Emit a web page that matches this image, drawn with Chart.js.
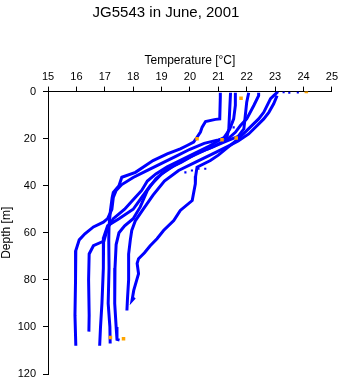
<!DOCTYPE html>
<html>
<head>
<meta charset="utf-8">
<script src="https://cdn.jsdelivr.net/npm/chart.js@4"></script>
<style>
  body { margin: 0; background: #fff; }
</style>
</head>
<body>
<canvas id="profileChart" width="341" height="384"></canvas>
<script>
// temperature [°C], depth [m] for each cast
const cast1 = [[21.07,0.5],[21.07,2.4],[21.05,11.6],[20.9,11.8],[20.55,12.7],[20.43,15.1],[20.37,17.2],[20.25,19.4],[20.13,21.5],[19.9,22.9],[19.66,24.3],[19.2,26.5],[18.7,29.3],[18.08,34.3],[17.6,36.4],[17.5,40],[17.3,42.8],[17.26,45],[17.2,50.5],[17.15,57],[17.14,63],[17.15,75],[17.12,90],[17.18,100],[17.19,107]];
const cast2 = [[21.43,0.5],[21.4,8],[21.37,15.8],[21.3,19.5],[21.0,20.5],[20.5,22],[20.0,24.5],[19.5,27.5],[19.0,30.5],[18.5,33.5],[18.0,36.5],[17.6,39.5],[17.4,42],[17.3,45],[17.25,50],[17.1,54],[16.95,55.5],[16.6,57.5],[16.3,60.4],[16.1,63],[15.98,67.5],[15.97,80],[15.95,95],[15.98,108]];
const cast3 = [[21.6,0.5],[21.6,5.9],[21.54,11.6],[21.4,16],[21.2,19.5],[20.7,23],[20.2,26],[19.7,29],[19.2,32],[18.8,35],[18.5,38],[18.3,42],[18.0,46],[17.7,50],[17.3,54],[17.1,58],[16.97,63.5],[16.6,65.5],[16.45,69],[16.43,80],[16.45,95],[16.44,102]];
const cast4 = [[22.07,0.5],[22.0,4.5],[21.95,10.2],[21.9,15.8],[21.7,19],[21.2,21.5],[20.6,24.5],[20.0,27.9],[19.5,31],[19.0,35],[18.6,40],[18.3,45],[18.0,50],[17.5,54],[17.1,57],[16.96,62],[16.95,75],[16.9,90],[16.85,100],[16.82,108]];
const cast5 = [[22.42,0.5],[22.42,1.7],[22.25,5.9],[22.0,11.6],[21.78,14.4],[21.6,17.3],[21.3,20.5],[20.8,23.5],[20.2,26.5],[19.7,30],[19.2,33],[18.8,37],[18.5,42],[18.25,49],[18.0,54],[17.7,57],[17.5,60],[17.4,65],[17.36,75],[17.35,90],[17.4,100],[17.43,105.3],[17.52,105.6]];
const cast6 = [[23.07,1.7],[22.95,5.2],[22.78,8.8],[22.6,11.6],[22.37,14.4],[22.07,18],[21.7,21],[21.3,23.5],[20.8,26.5],[20.2,30],[19.6,33.5],[19.1,38],[18.7,44],[18.35,50],[18.08,54.8],[17.95,59],[17.9,63],[17.84,69],[17.84,80],[17.8,88],[17.78,93]];
const cast7 = [[23.1,0],[22.84,3],[22.6,8.8],[22.42,11.6],[22.0,16.6],[21.66,20.5],[21.3,24],[21.0,27],[20.72,29.3],[20.25,32.1],[20.2,36],[20.19,39.2],[20.08,46.3],[19.66,50.5],[19.43,54.8],[19.07,59],[18.84,62.5],[18.6,65.5],[18.4,68.5],[18.19,71],[18.14,73],[18.19,77.4],[18.02,84.5],[17.96,88.7],[18.05,87.5]];
// loose samples that sit off the traces
const looseTemp = [23.3, 23.5, 23.8, 21.54, 19.84, 20.07, 20.3, 20.54];
const looseDepth = [0.3, 0.5, 0.4, 15.2, 34.3, 33.5, 32.8, 32.8];
// flagged samples
const flagTemp = [24.1, 21.8, 20.25, 21.13, 21.63, 17.2, 17.66];
const flagDepth = [0, 2.8, 20, 20.5, 19.7, 104.5, 105];

const casts = [cast1, cast2, cast3, cast4, cast5, cast6, cast7];
const toPoints = arr => arr.map(p => ({ x: p[0], y: p[1] }));
const zipPoints = (xs, ys) => xs.map((x, i) => ({ x: x, y: ys[i] }));

const BLUE = '#0000ff';
const FONT = "'Liberation Sans', Arial, sans-serif";

const datasets = [{
  data: zipPoints(flagTemp, flagDepth),
  showLine: false,
  pointStyle: 'rect',
  pointRadius: 2.5,
  backgroundColor: '#ffa500',
  borderWidth: 0,
  order: 0
}, {
  data: zipPoints(looseTemp, looseDepth),
  showLine: false,
  pointStyle: 'rect',
  pointRadius: 1.5,
  backgroundColor: BLUE,
  borderWidth: 0,
  order: 1
}];
casts.forEach(c => {
  datasets.push({
    data: toPoints(c),
    showLine: true,
    borderColor: BLUE,
    borderWidth: 3,
    pointRadius: 0,
    tension: 0,
    order: 2
  });
});

const ctx = document.getElementById('profileChart').getContext('2d');
const chart = new Chart(ctx, {
  type: 'scatter',
  data: { datasets: datasets },
  options: {
    responsive: false,
    animation: false,
    layout: { padding: { left: 0, right: 9, top: 0, bottom: 10 } },
    plugins: {
      legend: { display: false },
      tooltip: { enabled: false },
      title: {
        display: true,
        text: 'JG5543 in June, 2001',
        color: '#000',
        font: { family: FONT, size: 15, weight: 'normal' },
        padding: { top: 4, bottom: 31 }
      }
    },
    scales: {
      x: {
        type: 'linear',
        position: 'top',
        min: 15,
        max: 25,
        ticks: { stepSize: 1, color: '#000', padding: 3, font: { family: FONT, size: 11 } },
        grid: { drawOnChartArea: false, drawTicks: true, tickLength: 5, color: '#000' },
        border: { display: true, color: '#000', width: 1 },
        title: {
          display: true,
          text: 'Temperature [°C]',
          color: '#000',
          font: { family: FONT, size: 12 },
          padding: { top: 0, bottom: 0 }
        }
      },
      y: {
        type: 'linear',
        reverse: true,
        min: 0,
        max: 120,
        ticks: { stepSize: 20, color: '#000', padding: 7, font: { family: FONT, size: 11 } },
        grid: { drawOnChartArea: false, drawTicks: true, tickLength: 5, color: '#000' },
        border: { display: true, color: '#000', width: 1 },
        title: {
          display: true,
          text: 'Depth [m]',
          color: '#000',
          font: { family: FONT, size: 12 },
          padding: { top: -1, bottom: 0 }
        },
        // fixed axis width; label padding shouldn't shrink the plot
        afterFit: scale => {
          scale.width = 48;
          scale.paddingBottom = 0;
        }
      }
    }
  }
});
</script>
</body>
</html>
